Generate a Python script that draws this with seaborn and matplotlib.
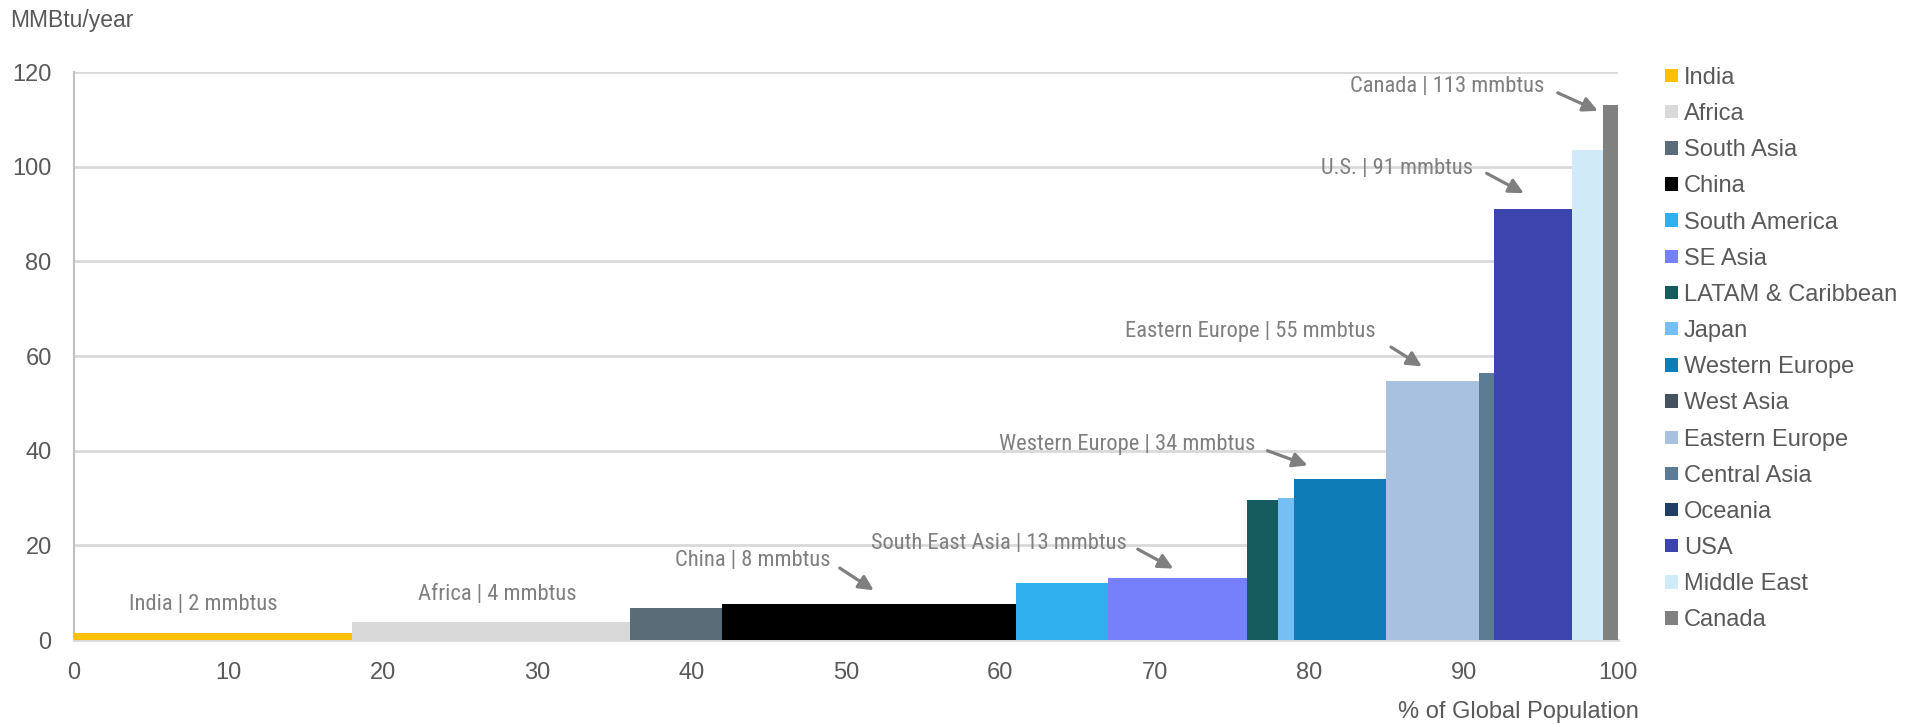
import matplotlib
matplotlib.use("Agg")
import matplotlib.pyplot as plt
import seaborn as sns
import numpy as np

# Regions ordered by per-capita energy use
regions = ["India", "Africa", "South Asia", "China", "South America", "SE Asia",
           "LATAM & Caribbean", "Japan", "Western Europe", "West Asia",
           "Eastern Europe", "Central Asia", "Oceania", "USA", "Middle East", "Canada"]
# Share of global population (%) for each region
pop_share = [18, 18, 6, 19, 6, 9, 2, 1, 6, 0, 6, 1, 0, 5, 2, 1]
# Energy use per capita (MMBtu/year)
energy = [1.5, 3.9, 6.8, 7.7, 12.0, 13.0, 29.5, 30.1, 34.0, 40.0,
          54.8, 56.4, 70.0, 91.0, 103.5, 113.0]
colors = ["#FFC000", "#D9D9D9", "#596C78", "#000000", "#31B0F0", "#7780FB",
          "#165C5E", "#75BFF5", "#0E7DB5", "#44535F", "#A9C1E0", "#5B7C94",
          "#213F66", "#3C44AE", "#D0EAF8", "#808080"]

# Callouts: (region, label name, text position, arrow start, arrow end)
callouts = [
    ("Canada", "Canada", (95.2, 117.0), (96.1, 115.6), (98.7, 111.8)),
    ("USA", "U.S.", (90.6, 99.6), (91.5, 98.6), (93.9, 94.4)),
    ("Eastern Europe", "Eastern Europe", (84.3, 65.2), (85.3, 61.9), (87.3, 57.8)),
    ("Western Europe", "Western Europe", (76.5, 41.3), (77.3, 40.0), (79.9, 36.9)),
    ("SE Asia", "South East Asia", (68.2, 20.4), (68.9, 19.2), (71.2, 15.1)),
    ("China", "China", (49.0, 16.8), (49.6, 15.2), (51.8, 10.5)),
]
centered_labels = [("India", "India", (8.4, 7.4)), ("Africa", "Africa", (27.4, 9.7))]

sns.set_theme(style="white")
plt.rcParams["font.family"] = ["Liberation Sans", "DejaVu Sans"]

TXT = "#595959"
ANN = "#7F7F7F"
GRID = "#D9D9D9"

fig = plt.figure(figsize=(19.25, 7.24), dpi=100)
ax = fig.add_axes([0.0384, 0.116, 0.8021, 0.7845])

left_edges = np.concatenate([[0], np.cumsum(pop_share)[:-1]])
for name, x0, w, h, c in zip(regions, left_edges, pop_share, energy, colors):
    ax.bar(x0, h, width=w, align="edge", color=c, linewidth=0, label=name, zorder=3)

ax.set_xlim(0, 100)
ax.set_ylim(0, 120)
ax.set_xticks(np.arange(0, 101, 10))
ax.set_yticks(np.arange(0, 121, 20))
ax.tick_params(axis="both", length=0, labelsize=17, labelcolor=TXT)
ax.tick_params(axis="x", pad=16)
ax.tick_params(axis="y", pad=16)
ax.yaxis.grid(True, color=GRID, linewidth=2, zorder=0)
ax.set_axisbelow(True)
for s in ["top", "right"]:
    ax.spines[s].set_visible(False)
ax.spines["left"].set_color("#BFBFBF")
ax.spines["left"].set_linewidth(1.5)
ax.spines["bottom"].set_color(GRID)
ax.spines["bottom"].set_linewidth(2)

fig.text(10 / 1925, 1 - 21 / 724, "MMBtu/year", fontsize=16.5, color=TXT,
         ha="left", va="center")
fig.text(1639 / 1925, 1 - 712 / 724, "% of Global Population", fontsize=17,
         color=TXT, ha="right", va="center")

value_of = dict(zip(regions, energy))
ann_font = ["Roboto Condensed", "PT Sans Narrow", "Liberation Sans", "DejaVu Sans"]
for reg, name, txy, a0, a1 in callouts:
    ax.text(txy[0], txy[1], f"{name} | {round(value_of[reg])} mmbtus",
            ha="right", va="center", fontsize=16.2, color=ANN, family=ann_font,
            zorder=5)
    ax.annotate("", xy=a1, xytext=a0,
                arrowprops=dict(arrowstyle="-|>", color=ANN, lw=2.3,
                                mutation_scale=22, shrinkA=0, shrinkB=0),
                zorder=5)
for reg, name, txy in centered_labels:
    ax.text(txy[0], txy[1], f"{name} | {round(value_of[reg])} mmbtus",
            ha="center", va="center", fontsize=16.2, color=ANN, family=ann_font,
            zorder=5)

leg = fig.legend(loc="upper left", bbox_to_anchor=(1656 / 1925, 1 - 57.5 / 724),
                 frameon=False, fontsize=17, handlelength=0.54, handleheight=0.5,
                 handletextpad=0.25, labelspacing=0.60, borderaxespad=0)
for t in leg.get_texts():
    t.set_color(TXT)

fig.savefig("out.png", dpi=100)
